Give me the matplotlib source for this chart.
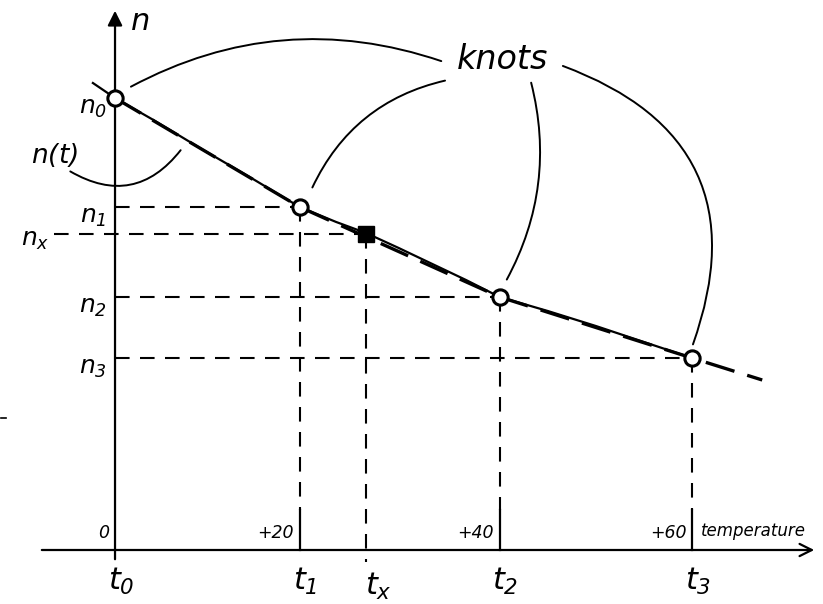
import matplotlib.pyplot as plt
import numpy as np

plt.rcParams['mathtext.fontset'] = 'custom'
plt.rcParams['mathtext.rm'] = 'DejaVu Sans:italic'
plt.rcParams['mathtext.it'] = 'DejaVu Sans:italic'

# knots (temperature, refractive index) in chart units
t_knots = [0.0, 19.2, 40.0, 60.0]
n_knots = [4.52, 3.43, 2.53, 1.92]
knot_names = ['0', '1', '2', '3']
temp_labels = ['0', '+20', '+40', '+60']

# interpolated point
t_x = 26.1
n_x = 3.16

# smooth n(t) curve
curve_t = [-2.3, 0.0, 4.0, 9.0, 14.0, 19.2, 23.0, 26.1, 29.5, 33.0, 36.5, 40.0, 45.0, 50.0, 55.0, 60.0]
curve_n = [4.67, 4.52, 4.30, 4.01, 3.73, 3.43, 3.28, 3.17, 3.02, 2.86, 2.70, 2.53, 2.39, 2.24, 2.08, 1.92]

# dashed extrapolation past the last knot
ext_t = [60.0, 67.3]
ext_n = [1.92, 1.70]

fig = plt.figure(figsize=(8.23, 6.04), dpi=100)
ax = fig.add_axes([0, 0, 1, 1])
ax.set_xlim(-11.96, 73.62)
ax.set_ylim(-0.54, 5.50)
ax.axis('off')

k = 'black'
dash = dict(color=k, lw=1.5, dashes=(7, 5))

# axes with arrows
ax.annotate('', xy=(73.0, 0), xytext=(-7.9, 0),
            arrowprops=dict(arrowstyle='->', color=k, lw=1.6, mutation_scale=22))
ax.annotate('', xy=(0, 5.42), xytext=(0, -0.12),
            arrowprops=dict(arrowstyle='-|>', color=k, lw=1.6, mutation_scale=22))

# guide lines
for t, n in zip(t_knots[1:], n_knots[1:]):
    ax.plot([0, t], [n, n], **dash)
    ax.plot([t, t], [n, 0.4], **dash)
    ax.plot([t, t], [0.4, 0], color=k, lw=1.6)
ax.plot([-6.3, t_x], [n_x, n_x], **dash)
ax.plot([t_x, t_x], [n_x, -0.12], **dash)

# linear interpolation (dashed) and the smooth curve
ax.plot(t_knots + ext_t[1:], n_knots + ext_n[1:], color=k, lw=2.4, dashes=(9, 4))
ax.plot(curve_t, curve_n, color=k, lw=1.6)

ax.plot(t_knots, n_knots, 'o', ms=11, mfc='white', mec=k, mew=2.2, zorder=5)
ax.plot([t_x], [n_x], 's', ms=11, color=k, zorder=5)

# labels
big = dict(fontsize=22, ha='center', va='center')
ax.text(2.6, 5.28, '$n$', **big)
for t, n, s in zip(t_knots, n_knots, knot_names):
    ax.text(-2.3, n - 0.1, '$n_{%s}$' % s, fontsize=18, ha='center', va='center')
    ax.text(t + 0.6, -0.31, '$t_{%s}$' % s, fontsize=22, ha='center', va='center')
ax.text(-8.3, n_x - 0.06, '$n_{x}$', fontsize=18, ha='center', va='center')
ax.text(t_x + 1.3, -0.36, '$t_{x}$', fontsize=22, ha='center', va='center')
ax.text(-6.3, 3.95, '$n(t)$', fontsize=19, ha='center', va='center')

for t, s in zip(t_knots, temp_labels):
    ax.text(t - 0.6, 0.08, s, fontsize=12.5, style='italic', ha='right', va='bottom')
ax.text(60.9, 0.1, 'temperature', fontsize=12, style='italic', ha='left', va='bottom')

ax.text(40.3, 4.9, 'knots', fontsize=24, style='italic', ha='center', va='center')

# stray mark at the left edge
ax.plot([-11.9, -11.3], [1.32, 1.32], color=k, lw=1.2)

# pointer lines from "knots" and "n(t)"
thin = dict(arrowstyle='-', color=k, lw=1.4)
ax.annotate('', xy=(1.4, 4.62), xytext=(34.2, 4.88),
            arrowprops=dict(connectionstyle='arc3,rad=0.22', **thin))
ax.annotate('', xy=(20.4, 3.60), xytext=(34.6, 4.70),
            arrowprops=dict(connectionstyle='arc3,rad=0.25', **thin))
ax.annotate('', xy=(40.6, 2.68), xytext=(43.2, 4.70),
            arrowprops=dict(connectionstyle='arc3,rad=-0.2', **thin))
ax.annotate('', xy=(60.0, 2.03), xytext=(46.3, 4.85),
            arrowprops=dict(connectionstyle='arc3,rad=-0.5', **thin))
ax.annotate('', xy=(7.0, 4.02), xytext=(-4.9, 3.80),
            arrowprops=dict(connectionstyle='arc3,rad=0.45', **thin))

fig.savefig('out.png', dpi=100)
